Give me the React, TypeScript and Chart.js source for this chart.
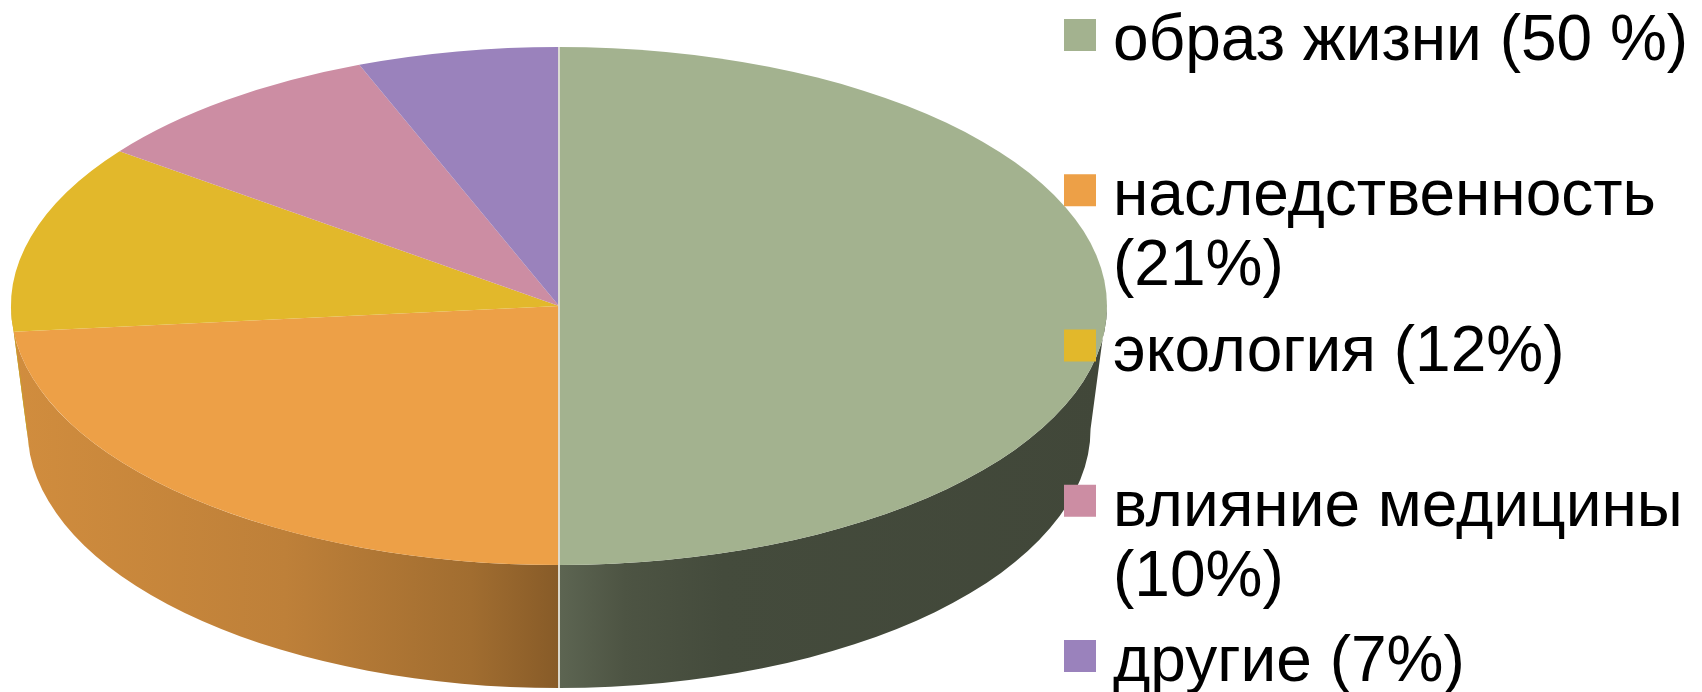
import React, { useEffect, useRef } from 'react';
import { Chart, registerables } from 'chart.js';

Chart.register(...registerables);

// ---- data ----
const categories: string[] = [
  'образ жизни (50 %)',
  'наследственность (21%)',
  'экология (12%)',
  'влияние медицины (10%)',
  'другие (7%)',
];
const shares: number[] = [50, 21, 12, 10, 7];

// ---- styles ----
const palette: string[] = ['#A3B28F', '#EDA047', '#E2B82B', '#CC8DA3', '#9A82BC'];
const sideShade: [number, number][] = [
  [0, 0.88],
  [0.25, 0.8],
  [0.42, 0.68],
  [0.5, 0.57],
  [0.56, 0.47],
  [0.65, 0.42],
  [1, 0.4],
];

function shade(hex: string, f: number): string {
  const n = parseInt(hex.slice(1), 16);
  const r = Math.round(((n >> 16) & 255) * f);
  const g = Math.round(((n >> 8) & 255) * f);
  const b = Math.round((n & 255) * f);
  return `rgb(${r},${g},${b})`;
}

// 3D tilt: slices near the viewer look wider, those at the back narrower
// (the same visual distortion as a perspective 3D pie).
const pie3d = {
  id: 'pie3d',
  afterDatasetsUpdate(chart: any, _args: any, opts: any) {
    const k = opts.perspective;
    const warp = (a: number) => a - k * Math.cos(a);
    (chart.getDatasetMeta(0).data as any[]).forEach((arc) => {
      const s = warp(arc.startAngle);
      const e = warp(arc.endAngle);
      arc.startAngle = s;
      arc.endAngle = e;
      arc.circumference = e - s;
    });
  },
  beforeDatasetsDraw(chart: any, _args: any, opts: any) {
    const arcs = chart.getDatasetMeta(0).data as any[];
    if (!arcs.length) return;
    const first = arcs[0];
    const cx = first.x;
    const cy = first.y;
    const r = first.outerRadius;
    const rx = chart.chartArea.width / 2;
    const ry = r;
    const depth = opts.depth;
    const rxb = rx * opts.bottomScale;
    const ctx = chart.ctx as CanvasRenderingContext2D;
    ctx.save();
    arcs.forEach((arc, i) => {
      const s = Math.max(arc.startAngle, 0);
      const e = Math.min(arc.endAngle, Math.PI);
      if (e <= s) return;
      const g = ctx.createLinearGradient(cx - rx, 0, cx + rx, 0);
      sideShade.forEach(([t, f]) => g.addColorStop(t, shade(palette[i], f)));
      ctx.beginPath();
      ctx.ellipse(cx, cy, rx, ry, 0, s, e, false);
      ctx.ellipse(cx, cy + depth, rxb, ry, 0, e, s, true);
      ctx.closePath();
      ctx.fillStyle = g;
      ctx.fill();
    });
    ctx.restore();
    ctx.save();
    ctx.translate(cx, cy);
    ctx.scale(rx / r, ry / r);
    ctx.translate(-cx, -cy);
  },
  afterDatasetsDraw(chart: any, _args: any, opts: any) {
    const ctx = chart.ctx as CanvasRenderingContext2D;
    ctx.restore();
    const arcs = chart.getDatasetMeta(0).data as any[];
    if (!arcs.length) return;
    const first = arcs[0];
    const cx = first.x;
    const cy = first.y;
    const rx = chart.chartArea.width / 2;
    const ry = first.outerRadius;
    ctx.save();
    ctx.strokeStyle = opts.seamColor;
    ctx.lineWidth = opts.seamWidth;
    [first.startAngle, first.endAngle].forEach((a: number) => {
      const px = cx + rx * Math.cos(a);
      const py = cy + ry * Math.sin(a);
      ctx.beginPath();
      ctx.moveTo(cx, cy);
      ctx.lineTo(px, py);
      const norm = ((a % (2 * Math.PI)) + 2 * Math.PI) % (2 * Math.PI);
      if (norm >= 0 && norm <= Math.PI) {
        ctx.lineTo(cx + rx * opts.bottomScale * Math.cos(a), py + opts.depth);
      }
      ctx.stroke();
    });
    ctx.restore();
  },
};

function wrapText(ctx: CanvasRenderingContext2D, text: string, maxW: number): string[] {
  const words = text.split(' ');
  const lines: string[] = [];
  let cur = '';
  words.forEach((w) => {
    const test = cur ? cur + ' ' + w : w;
    if (cur && ctx.measureText(test).width > maxW) {
      lines.push(cur);
      cur = w;
    } else {
      cur = test;
    }
  });
  if (cur) lines.push(cur);
  return lines;
}

const sideLegend = {
  id: 'sideLegend',
  afterDraw(chart: any, _args: any, opts: any) {
    const ctx = chart.ctx as CanvasRenderingContext2D;
    const labels = chart.data.labels as string[];
    const colors = chart.data.datasets[0].backgroundColor as string[];
    ctx.save();
    ctx.font = `${opts.fontSize}px ${opts.fontFamily}`;
    ctx.textBaseline = 'alphabetic';
    ctx.textAlign = 'left';
    const maxW = chart.width - opts.textX + 8;
    labels.forEach((label, i) => {
      const yc = opts.firstCenter + i * opts.itemStep;
      ctx.fillStyle = colors[i];
      ctx.fillRect(opts.boxX, yc - opts.boxSize / 2, opts.boxSize, opts.boxSize);
      ctx.fillStyle = opts.color;
      wrapText(ctx, label, maxW).forEach((ln, j) => {
        ctx.fillText(ln, opts.textX, yc + opts.baselineOffset + j * opts.lineHeight);
      });
    });
    ctx.restore();
  },
};

export default function App() {
  const ref = useRef<HTMLCanvasElement | null>(null);

  useEffect(() => {
    if (!ref.current) return;
    const chart = new Chart(ref.current, {
      type: 'pie',
      data: {
        labels: categories,
        datasets: [
          {
            data: shares,
            backgroundColor: palette,
            borderWidth: 0,
          },
        ],
      },
      options: {
        responsive: false,
        animation: false,
        events: [],
        layout: { padding: { left: 11, right: 595, top: 47, bottom: 127 } },
        plugins: {
          legend: { display: false },
          tooltip: { enabled: false },
          pie3d: {
            depth: 123,
            bottomScale: 0.97,
            perspective: 0.157,
            seamColor: 'rgba(222,222,212,0.95)',
            seamWidth: 2,
          },
          sideLegend: {
            boxX: 1064,
            boxSize: 32,
            firstCenter: 35,
            itemStep: 155.25,
            textX: 1113,
            baselineOffset: 25,
            lineHeight: 70,
            fontSize: 64,
            fontFamily: '"Liberation Sans", Arial, sans-serif',
            color: '#000000',
          },
        } as any,
      },
      plugins: [pie3d as any, sideLegend as any],
    });
    return () => chart.destroy();
  }, []);

  return (
    <div
      style={{
        position: 'fixed',
        left: 0,
        top: 0,
        width: 1702,
        height: 692,
        background: '#ffffff',
        overflow: 'hidden',
      }}
    >
      <canvas ref={ref} width={1702} height={692} style={{ display: 'block' }} />
    </div>
  );
}
